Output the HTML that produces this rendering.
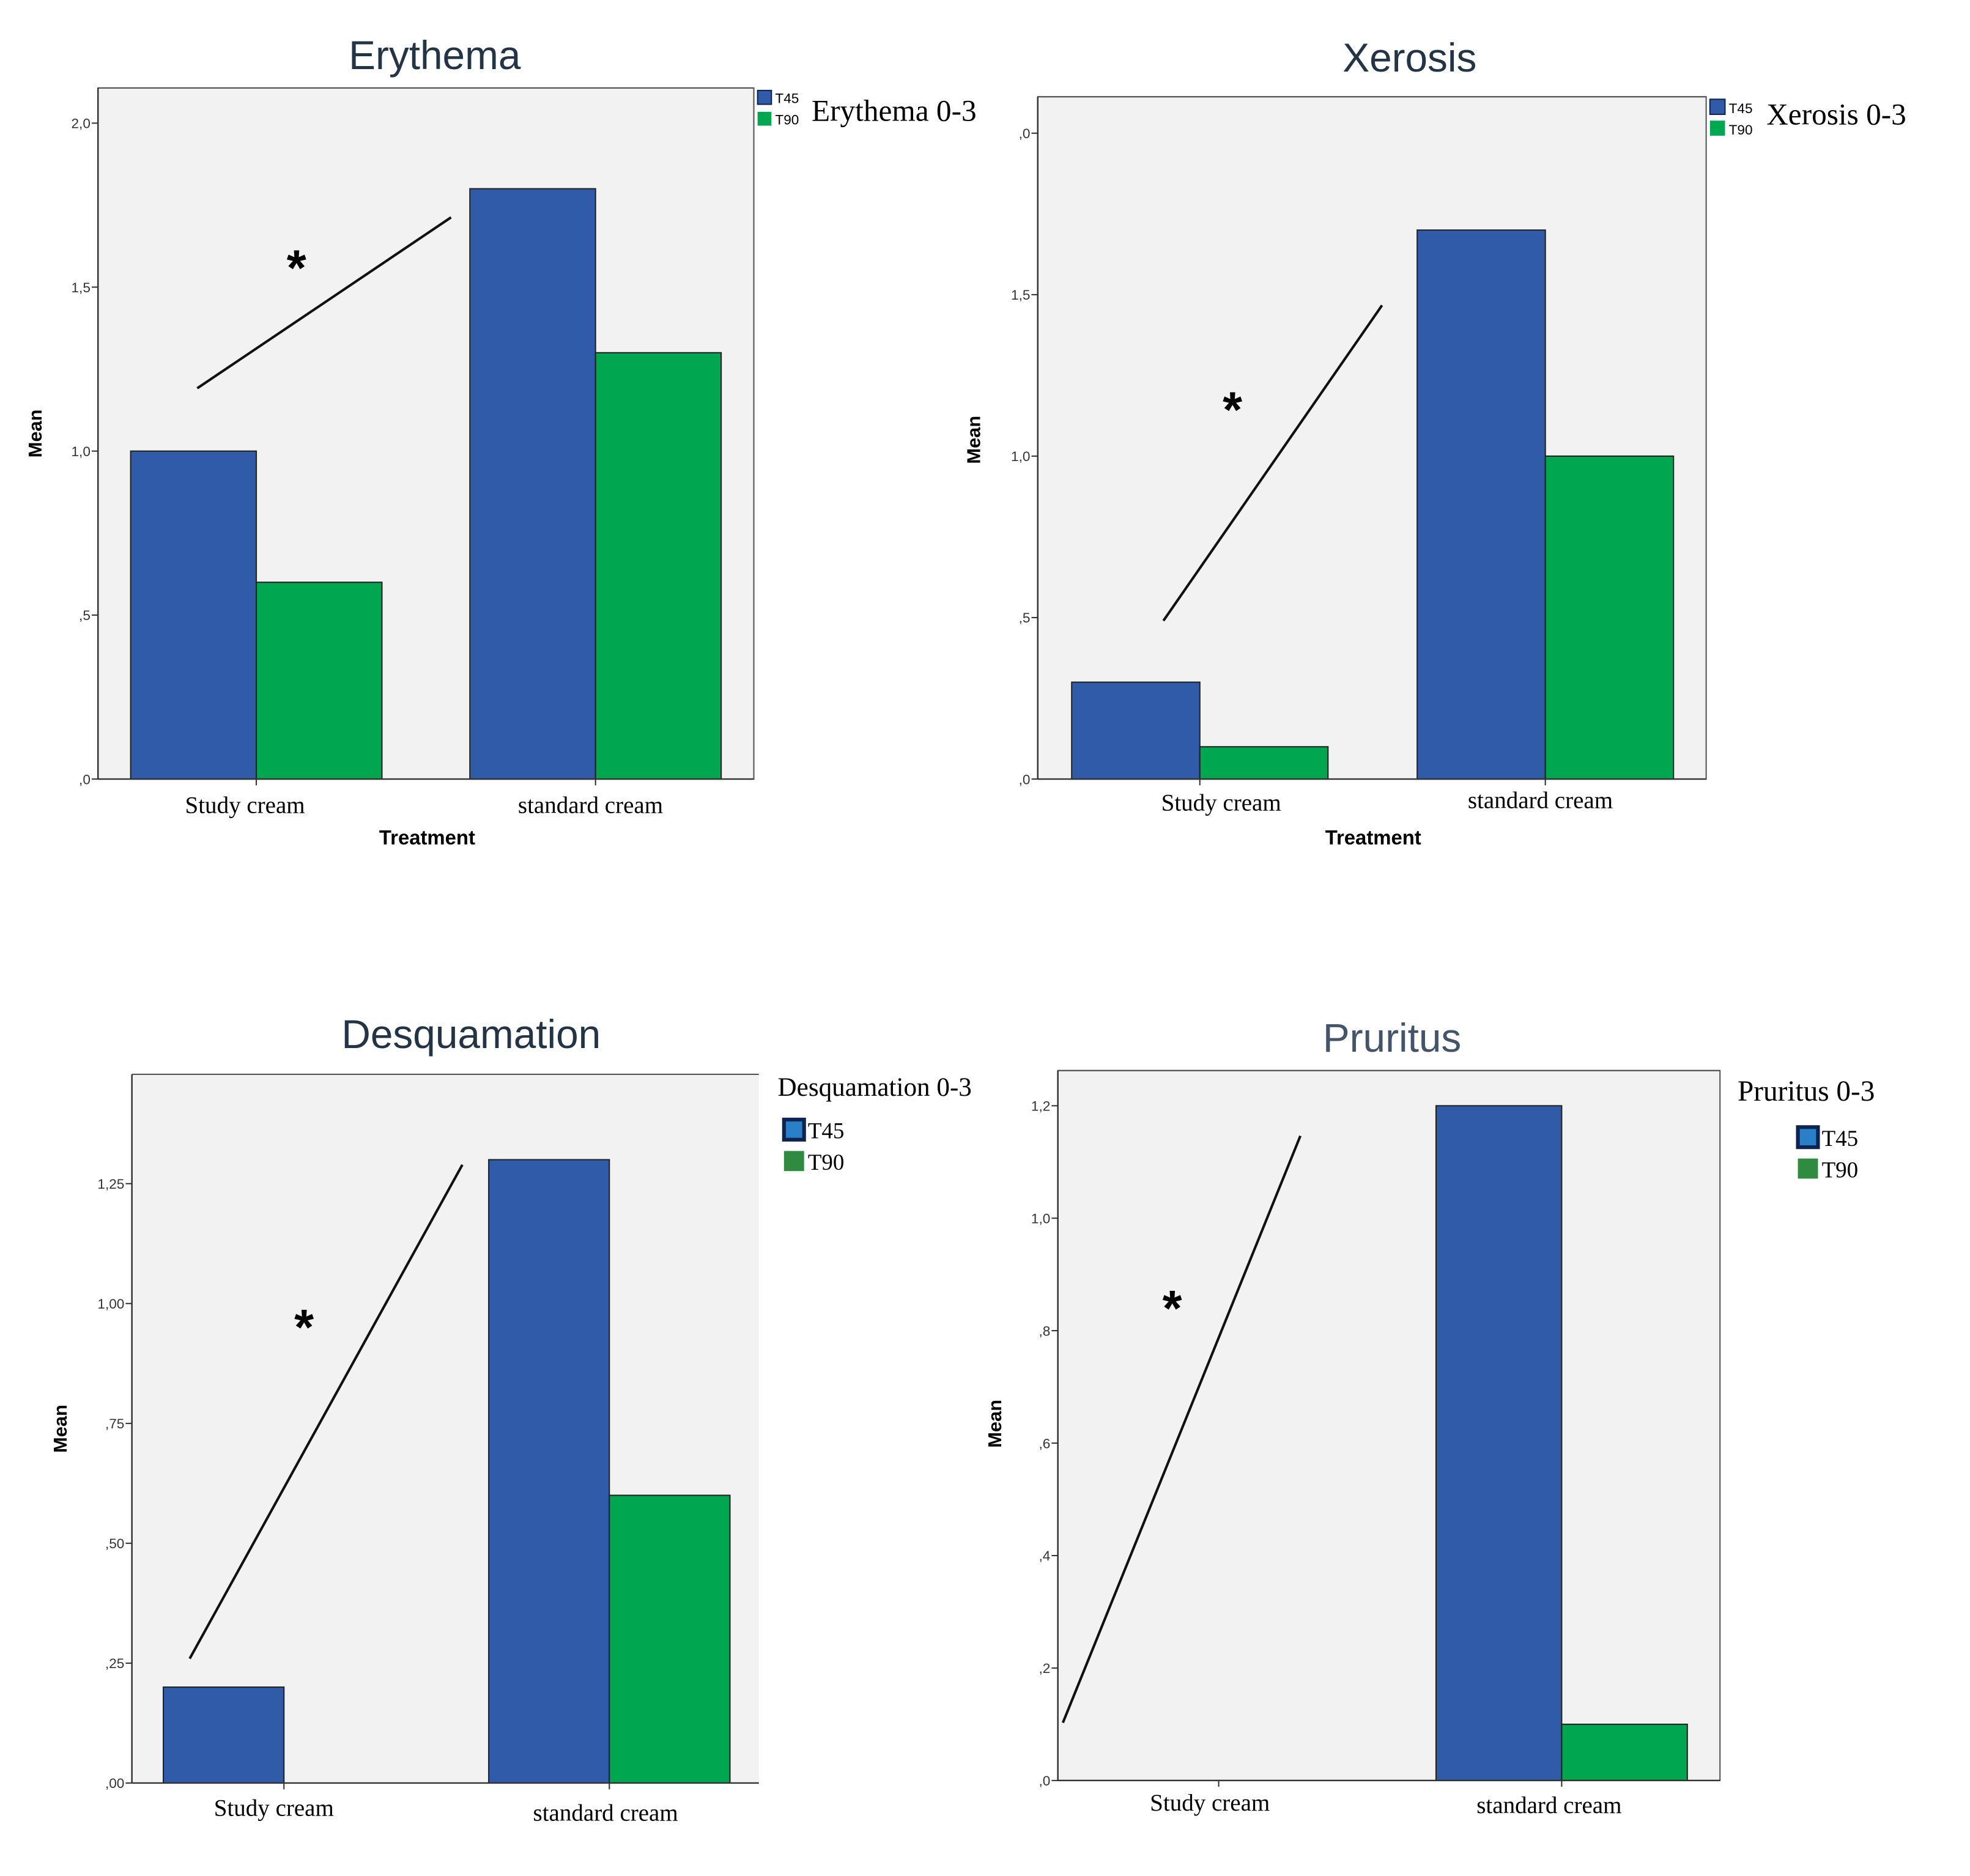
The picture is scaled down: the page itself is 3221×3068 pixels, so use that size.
<!DOCTYPE html>
<html><head><meta charset="utf-8"><style>
html,body{margin:0;padding:0;background:#fff;}
svg{display:block;}
</style></head><body>
<svg id="root" width="3221" height="3068" viewBox="0 0 1568 1493" preserveAspectRatio="none" xmlns="http://www.w3.org/2000/svg"></svg>
<script>
const categories = ["Study cream", "standard cream"];
const seriesNames = ["T45", "T90"];
const erythemaT45 = [1.0, 1.8];
const erythemaT90 = [0.6, 1.3];
const erythemaTicks = [0, 0.5, 1.0, 1.5, 2.0];
const erythemaTickLabels = [",0", ",5", "1,0", "1,5", "2,0"];
const xerosisT45 = [0.3, 1.7];
const xerosisT90 = [0.1, 1.0];
const xerosisTicks = [0, 0.5, 1.0, 1.5, 2.0];
const xerosisTickLabels = [",0", ",5", "1,0", "1,5", ",0"];
const desqT45 = [0.2, 1.3];
const desqT90 = [0, 0.6];
const desqTicks = [0, 0.25, 0.5, 0.75, 1.0, 1.25];
const desqTickLabels = [",00", ",25", ",50", ",75", "1,00", "1,25"];
const prurT45 = [0, 1.2];
const prurT90 = [0, 0.1];
const prurTicks = [0, 0.2, 0.4, 0.6, 0.8, 1.0, 1.2];
const prurTickLabels = [",0", ",2", ",4", ",6", ",8", "1,0", "1,2"];

const NS = "http://www.w3.org/2000/svg";
const root = document.getElementById("root");
const BLUE = "#2f5ba8", GREEN = "#00a650";
function mk(tag, attrs, parent, text) {
  const e = document.createElementNS(NS, tag);
  for (const k in attrs) e.setAttribute(k, attrs[k]);
  if (text !== undefined) e.textContent = text;
  (parent || root).appendChild(e);
  return e;
}

function chart(cfg) {
  const g = mk("g", {});
  
  
  const y = v => cfg.y0 - (v - 0) * (cfg.y0 - cfg.yTop) / cfg.vTop;
  const bg = mk("rect", {x: cfg.L, y: cfg.T, width: cfg.R - cfg.L, height: cfg.y0 - cfg.T, fill: "#f2f2f2", stroke: cfg.noRight ? "none" : "#555", "stroke-width": 1}, g);
  
  
  mk("line", {x1: cfg.L, y1: cfg.T, x2: cfg.R, y2: cfg.T, stroke: "#555", "stroke-width": 1}, g);
  const title = mk("text", {x: cfg.titleX, y: cfg.titleY, "text-anchor": "middle", "font-family": "Liberation Sans, sans-serif", "font-size": 32, fill: cfg.titleColor || "#243447"}, g, cfg.title);
  
  
  cfg.ticks.forEach((t, i) => {
    const yy = y(t);
    mk("line", {x1: cfg.L - 5, y1: yy, x2: cfg.L, y2: yy, stroke: "#333", "stroke-width": 1}, g);
    const tl = mk("text", {x: cfg.L - 6, y: yy + 4, "text-anchor": "end", "font-family": "Liberation Sans, sans-serif", "font-size": 11, fill: "#333"}, g, cfg.tickLabels[i]);
    
    
  });
  const mean = mk("text", {x: cfg.meanX, y: cfg.meanY, "text-anchor": "middle", "font-family": "Liberation Sans, sans-serif", "font-size": 15, "font-weight": "bold", transform: `rotate(-90 ${cfg.meanX} ${cfg.meanY})`}, g, "Mean");
  
  
  const bw = cfg.barW;
  categories.forEach((c, ci) => {
    const cx = cfg.catX[ci];
    [cfg.t45, cfg.t90].forEach((arr, si) => {
      const v = arr[ci];
      if (v <= 0) return;
      const x = si === 0 ? cx - bw : cx;
      const b = mk("rect", {x: x, y: y(v), width: bw, height: cfg.y0 - y(v), fill: si === 0 ? BLUE : GREEN, stroke: "#222", "stroke-width": 1}, g);
      
      
    });
    mk("line", {x1: cx, y1: cfg.y0, x2: cx, y2: cfg.y0 + 5, stroke: "#333"}, g);
    const cl = mk("text", {x: cfg.catLabelX[ci], y: cfg.catLabelY[ci], "text-anchor": "middle", "font-family": "Liberation Serif, serif", "font-size": 19}, g, c);
    
    
  });
  mk("line", {x1: cfg.L, y1: cfg.T, x2: cfg.L, y2: cfg.y0, stroke: "#333", "stroke-width": 1.2}, g);
  mk("line", {x1: cfg.L, y1: cfg.y0, x2: cfg.R, y2: cfg.y0, stroke: "#333", "stroke-width": 1.2}, g);
  if (cfg.treatX) {
    const tr = mk("text", {x: cfg.treatX, y: 672, "text-anchor": "middle", "font-family": "Liberation Sans, sans-serif", "font-size": 16, "font-weight": "bold"}, g, "Treatment");
    
    
  }
  const ln = mk("line", {x1: cfg.line[0], y1: cfg.line[1], x2: cfg.line[2], y2: cfg.line[3], stroke: "#111", "stroke-width": 2}, g);
  
  
  const ast = mk("text", {x: cfg.ast[0], y: cfg.ast[1] + 20, "text-anchor": "middle", "font-family": "Liberation Sans, sans-serif", "font-size": 40, "font-weight": "bold"}, g, "*");
  
  
  const lg = cfg.legend;
  const lt = mk("text", {x: lg.titleX, y: lg.titleY, "font-family": "Liberation Serif, serif", "font-size": lg.titleSize}, g, lg.title);
  
  
  seriesNames.forEach((s, i) => {
    const sq = mk("rect", {x: lg.sx, y: lg.sy[i], width: lg.ss, height: lg.ss, fill: i === 0 ? (lg.big ? "#2a7fc9" : BLUE) : (lg.big ? "#2e8b40" : GREEN), stroke: i === 0 ? "#0d2350" : "none", "stroke-width": lg.big ? 3 : 1}, g);
    
    
    const st = mk("text", {x: lg.sx + lg.ss + 3, y: lg.sy[i] + lg.ss - 1, "font-family": lg.big ? "Liberation Serif, serif" : "Liberation Sans, sans-serif", "font-size": lg.big ? 18 : 11}, g, s);
    
    
  });
}

chart({id: "erythema", L: 78, T: 70, R: 600, y0: 620, yTop: 98, vTop: 2.0, ticks: erythemaTicks, tickLabels: erythemaTickLabels,
  t45: erythemaT45, t90: erythemaT90, catX: [204, 474], barW: 100, title: "Erythema", titleX: 346, titleY: 55,
  meanX: 33, meanY: 345, catLabelX: [195, 470], catLabelY: [647, 647], treatX: 340,
  line: [157, 309, 359, 173], ast: [236, 207],
  legend: {title: "Erythema 0-3", titleX: 646, titleY: 96, titleSize: 24, sx: 603, sy: [72, 89], ss: 11, big: false}});
chart({id: "xerosis", L: 826, T: 77, R: 1358, y0: 620, yTop: 106, vTop: 2.0, ticks: xerosisTicks, tickLabels: xerosisTickLabels,
  t45: xerosisT45, t90: xerosisT90, catX: [955, 1230], barW: 102, title: "Xerosis", titleX: 1122, titleY: 57,
  meanX: 780, meanY: 350, catLabelX: [972, 1226], catLabelY: [645, 643], treatX: 1093,
  line: [926, 494, 1100, 243], ast: [981, 320],
  legend: {title: "Xerosis 0-3", titleX: 1406, titleY: 99, titleSize: 24, sx: 1361, sy: [79, 96], ss: 12, big: false}});
chart({id: "desquamation", L: 105, T: 855, R: 604, y0: 1419, yTop: 942, vTop: 1.25, ticks: desqTicks, tickLabels: desqTickLabels,
  t45: desqT45, t90: desqT90, catX: [226, 485], barW: 96, title: "Desquamation", titleX: 375, titleY: 834, noRight: true,
  meanX: 53, meanY: 1137, catLabelX: [218, 482], catLabelY: [1445, 1449],
  line: [151, 1320, 368, 927], ast: [242, 1050],
  legend: {title: "Desquamation 0-3", titleX: 619, titleY: 872, titleSize: 21, sx: 624, sy: [891, 916], ss: 16, big: true}});
chart({id: "pruritus", L: 842, T: 852, R: 1369, y0: 1417, yTop: 880, vTop: 1.2, ticks: prurTicks, tickLabels: prurTickLabels,
  t45: prurT45, t90: prurT90, catX: [970, 1243], barW: 100, title: "Pruritus", titleX: 1108, titleY: 837, titleColor: "#44546a",
  meanX: 797, meanY: 1133, catLabelX: [963, 1233], catLabelY: [1441, 1443],
  line: [846, 1371, 1035, 904], ast: [933, 1035],
  legend: {title: "Pruritus 0-3", titleX: 1383, titleY: 876, titleSize: 23, sx: 1431, sy: [897, 922], ss: 16, big: true}});
</script>
</body></html>
